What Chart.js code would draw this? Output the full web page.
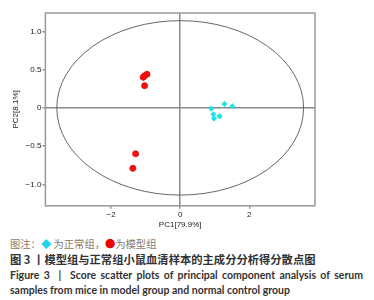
<!DOCTYPE html>
<html>
<head>
<meta charset="utf-8">
<script src="https://cdn.jsdelivr.net/npm/chart.js@4"></script>
<style>
  body { margin: 0; background: #fff; width: 374px; height: 300px; overflow: hidden; position: relative; }
  #box { position: absolute; left: 0; top: 0; width: 374px; height: 230px; }
  .cap { position: absolute; left: 10px; white-space: nowrap; }
  #c1 { top: 236px; font: 10.3px "Noto Sans CJK SC"; color: #8a7a6a; }
  #c2 { top: 251px; font: bold 11.3px "Noto Sans CJK SC"; color: #333; }
  #c3 { top: 269px; font: bold 10.5px Lato; color: #333; word-spacing: 1.8px; }
  #c4 { top: 284px; font: bold 10.5px Lato; color: #333; }
</style>
</head>
<body>
<div id="box"><canvas id="pca"></canvas></div>
<div class="cap" id="c1">图注：<span style="color:#1fd6e0">◆</span> 为正常组，<span style="color:#e00">●</span>为模型组</div>
<div class="cap" id="c2">图 3 丨模型组与正常组小鼠血清样本的主成分分析得分散点图</div>
<div class="cap" id="c3">Figure 3 &nbsp;| &nbsp;Score scatter plots of principal component analysis of serum</div>
<div class="cap" id="c4">samples from mice in model group and normal control group</div>
<script>
// scores
var model_pc1 = [-0.96, -1.03, -1.07, -1.03, -1.29, -1.37];
var model_pc2 = [0.44, 0.42, 0.40, 0.29, -0.60, -0.79];
var normal_pc1 = [0.90, 1.28, 1.51, 0.96, 1.14, 0.98];
var normal_pc2 = [-0.01, 0.05, 0.02, -0.085, -0.11, -0.14];

var xTicks = [-2, 0, 2];
var yTicks = [-1.0, -0.5, 0, 0.5, 1.0];
// Hotelling ellipse half-axes
var ellipseRx = 3.57;
var ellipseRy = 1.14;

function pts(xs, ys){
  var out = [];
  for(i = 0; i < xs.length; i++){
    out.push({x: xs[i], y: ys[i]});
  }
  return out;
}

// ellipse + frame drawn with the chart scales
var extras = {
  id: 'extras',
  beforeDatasetsDraw(chart){
    var ctx = chart.ctx, a = chart.chartArea;
    var sx = chart.scales.x, sy = chart.scales.y;
    var cx = sx.getPixelForValue(0), cy = sy.getPixelForValue(0);
    var rx = sx.getPixelForValue(ellipseRx) - cx;
    var ry = cy - sy.getPixelForValue(ellipseRy);
    ctx.save();
    ctx.strokeStyle = '#9a9a9a';
    ctx.lineWidth = 1.5;
    ctx.strokeRect(a.left, a.top, a.right - a.left, a.bottom - a.top);
    ctx.strokeStyle = '#666';
    ctx.lineWidth = 1;
    ctx.beginPath();
    ctx.ellipse(cx, cy, rx, ry, 0, 0, Math.PI * 2);
    ctx.stroke();
    ctx.restore();
  }
};

function zeroLine(c){
  return c.tick && c.tick.value === 0 ? '#8a8a8a' : 'rgba(0,0,0,0)';
}

new Chart(document.getElementById('pca'), {
  type: 'scatter',
  data: {
    datasets: [
      {
        label: '模型组',
        data: pts(model_pc1, model_pc2),
        backgroundColor: '#ee1111',
        borderColor: '#ee1111',
        pointStyle: 'circle',
        pointRadius: 3
      },
      {
        label: '正常组',
        data: pts(normal_pc1, normal_pc2),
        backgroundColor: '#22e0ea',
        borderColor: '#22e0ea',
        pointStyle: 'rectRot',
        pointRadius: 2.6
      }
    ]
  },
  options: {
    responsive: true,
    maintainAspectRatio: false,
    animation: false,
    layout: { padding: { top: 13, right: 59, left: 11, bottom: 0 } },
    plugins: {
      legend: { display: false },
      tooltip: { enabled: false }
    },
    scales: {
      x: {
        min: -3.9, max: 3.9,
        afterBuildTicks: function(s){ s.ticks = xTicks.map(function(v){ return {value: v}; }); },
        grid: { color: zeroLine, lineWidth: 1.5, drawTicks: true, tickLength: 3, tickColor: '#999' },
        border: { display: false },
        ticks: { color: '#222', font: { size: 8, family: 'Liberation Sans' }, padding: 1,
                 callback: function(v){ return v === 0 ? '0' : String(v).replace('-', '\u2212'); } },
        title: { display: true, text: 'PC1[79.9%]', color: '#222', font: { size: 8, family: 'Liberation Sans' }, padding: { top: 0, bottom: 0 } }
      },
      y: {
        min: -1.28, max: 1.24,
        afterBuildTicks: function(s){ s.ticks = yTicks.map(function(v){ return {value: v}; }); },
        grid: { color: zeroLine, lineWidth: 1.5, drawTicks: true, tickLength: 3, tickColor: '#999' },
        border: { display: false },
        ticks: { color: '#222', font: { size: 8, family: 'Liberation Sans' }, padding: 1,
                 callback: function(v){ return v === 0 ? '0' : v.toFixed(1).replace('-', '\u2212'); } },
        title: { display: true, text: 'PC2[8.1%]', color: '#222', font: { size: 8, family: 'Liberation Sans' }, padding: { top: 0, bottom: 4 } }
      }
    }
  },
  plugins: [extras]
});
</script>
</body>
</html>
